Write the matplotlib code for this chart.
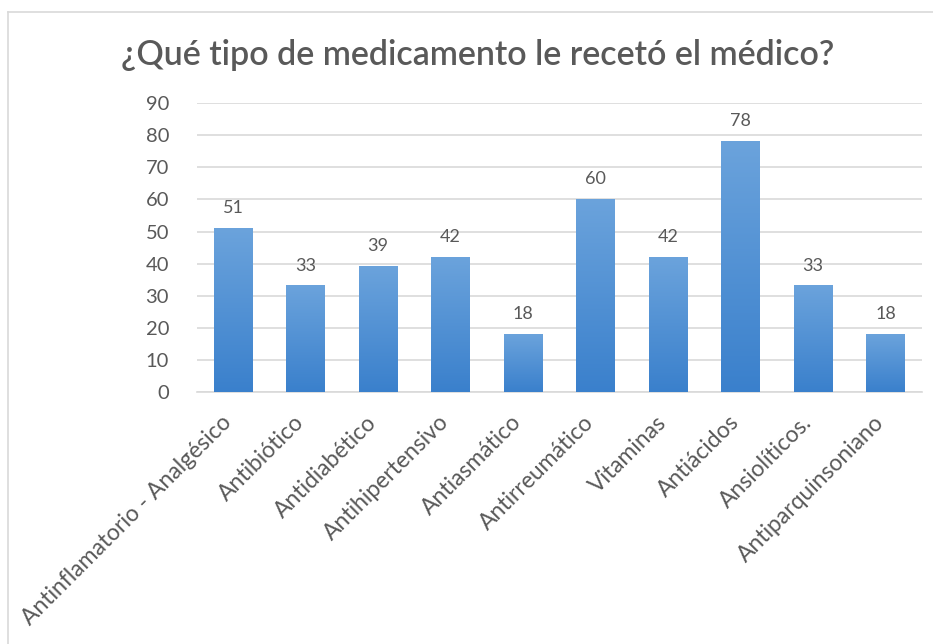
import matplotlib.pyplot as plt
import numpy as np
from matplotlib.lines import Line2D
from matplotlib.colors import LinearSegmentedColormap
from matplotlib.transforms import ScaledTranslation

# --- data ---
TITLE = "¿Qué tipo de medicamento le recetó el médico?"
categories = [
    "Antinflamatorio - Analgésico", "Antibiótico", "Antidiabético",
    "Antihipertensivo", "Antiasmático", "Antirreumático", "Vitaminas",
    "Antiácidos", "Ansiolíticos.", "Antiparquinsoniano",
]
values = [51, 33, 39, 42, 18, 60, 42, 78, 33, 18]
y_ticks = list(range(0, 91, 10))

TEXT_GREY = "#595959"
GRID_GREY = "#d9d9d9"
# bars fade from a lighter blue at the top to a deeper blue at the base
bar_cmap = LinearSegmentedColormap.from_list("bar", ["#3A80CC", "#6BA3DC"])

plt.rcParams['font.family'] = ['Lato', 'DejaVu Sans']

fig = plt.figure(figsize=(9.33, 6.44), dpi=100)
ax = fig.add_axes([0.211, 0.391, 0.777, 0.449])

x = np.arange(len(categories))
bars = ax.bar(x, values, width=0.53, color="#4A8ED6", linewidth=0, zorder=3)

grad = np.linspace(0, 1, 256).reshape(-1, 1)
for rect, v in zip(bars, values):
    x0 = rect.get_x()
    ax.imshow(grad, extent=[x0, x0 + rect.get_width(), 0, v], origin="lower",
              aspect="auto", cmap=bar_cmap, vmin=0, vmax=1, zorder=3.5)
    ax.annotate(str(v), (x0 + rect.get_width() / 2, v),
                xytext=(0, 9), textcoords="offset points",
                ha="center", va="bottom", fontsize=13, color=TEXT_GREY)

ax.set_xlim(-0.5, len(categories) - 0.5)
ax.set_ylim(0, 90)
ax.set_yticks(y_ticks)
ax.tick_params(axis='y', length=0, labelsize=14.5, labelcolor=TEXT_GREY, pad=20)
ax.tick_params(axis='x', length=0, labelsize=16.5, labelcolor=TEXT_GREY, pad=14)
ax.set_xticks(x)
ax.set_xticklabels(categories, rotation=45, ha="right", rotation_mode="anchor")

# nudge the slanted labels a little left so they end just under each bar
shift = ScaledTranslation(-9 / 72, 0, fig.dpi_scale_trans)
for lbl in ax.get_xticklabels():
    lbl.set_transform(lbl.get_transform() + shift)

ax.grid(True, axis='y', color=GRID_GREY, linewidth=1.2, zorder=0)
for side in ("top", "right", "left"):
    ax.spines[side].set_visible(False)
ax.spines["bottom"].set_color(GRID_GREY)
ax.spines["bottom"].set_linewidth(1.2)

fig.text(0.512, 0.914, TITLE, ha="center", va="center", fontsize=24.5,
         fontweight="semibold", color=TEXT_GREY)

# light chart-area border at top and left, as in the screenshot
fig.add_artist(Line2D([8 / 933, 8 / 933], [0, 1 - 12 / 644], color=GRID_GREY, linewidth=1.2))
fig.add_artist(Line2D([8 / 933, 1], [1 - 12 / 644, 1 - 12 / 644], color=GRID_GREY, linewidth=1.2))

fig.savefig("out.png", dpi=100)
